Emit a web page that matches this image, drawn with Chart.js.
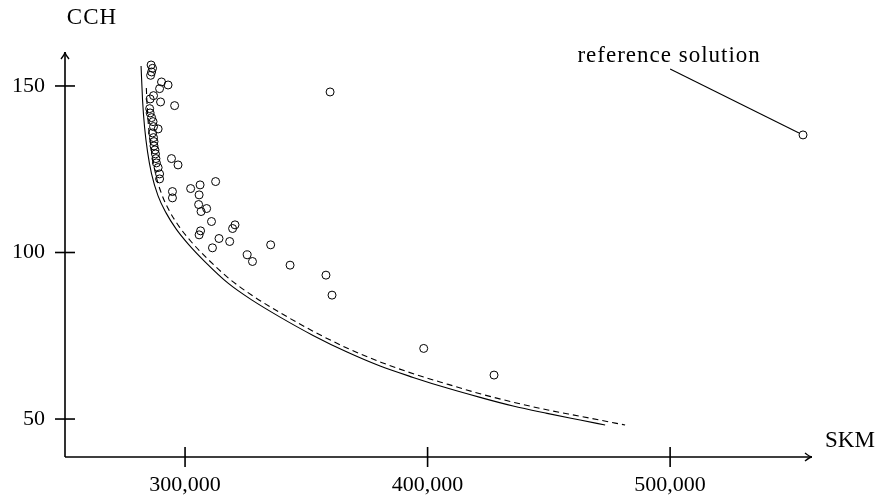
<!DOCTYPE html>
<html lang="en">
<head>
<meta charset="utf-8">
<script src="https://cdn.jsdelivr.net/npm/chart.js@4.4.1/dist/chart.umd.min.js"></script>
<style>
  body { margin: 0; background: #fff; }
  .wrap { width: 883px; height: 497px; }
</style>
</head>
<body>
<div class="wrap"><canvas id="front"></canvas></div>
<script>
// tick labels
const xTicks = [300000, 400000, 500000];
const yTicks = [50, 100, 150];

// runs (SKM, CCH)
const runSKM = [286000, 286600, 286200, 285800, 290300, 293000, 289500, 287000, 285600, 289900,
  295700, 285400, 285600, 286200, 286800, 287000, 288900, 286600, 287000, 287200,
  287200, 287600, 287800, 288000, 288200, 288900, 289500, 289500, 294400, 297100,
  294800, 294800, 302300, 306200, 312600, 305800, 305600, 308900, 306600, 310900,
  320600, 319600, 306400, 305800, 314000, 318400, 311300, 335300, 325600, 327800,
  343300, 358100, 360600, 398400, 427400, 359800];
const runCCH = [156.3, 155.3, 154.2, 153.2, 151.2, 150.3, 149.2, 147.1, 146.1, 145.2,
  144.1, 143.2, 141.9, 140.5, 139.3, 137.8, 137.1, 135.9, 134.5, 133.3,
  132.0, 130.8, 129.6, 128.2, 126.9, 125.5, 123.6, 122.1, 128.2, 126.3,
  118.3, 116.4, 119.2, 120.3, 121.3, 117.3, 114.4, 113.2, 112.3, 109.3,
  108.3, 107.2, 106.5, 105.3, 104.2, 103.3, 101.4, 102.3, 99.3, 97.3,
  96.2, 93.2, 87.2, 71.2, 63.2, 148.2];

// reference solution
const refSKM = [554800];
const refCCH = [135.3];

// solid front
const frontSKM = [281860, 282470, 283300, 284540, 286190, 288870, 292170, 296290, 301240, 308250,
  317730, 327630, 339180, 352780, 366800, 380410, 394020, 408040, 421650, 435260, 449280, 462890, 473200];
const frontCCH = [156.0, 145.8, 137.7, 130.2, 123.6, 117.0, 111.9, 107.1, 102.6, 97.2,
  90.8, 85.7, 80.6, 75.1, 70.1, 65.9, 62.5, 59.3, 56.5, 53.9, 51.7, 49.7, 48.2];

// dashed front
const dashSKM = [284040, 284250, 284950, 286190, 287790, 290430, 293610, 297650, 302470, 309400,
  318760, 328540, 339960, 353480, 367420, 380950, 394520, 408500, 422060, 435630, 449610, 463180, 481440];
const dashCCH = [149.4, 145.8, 137.8, 130.4, 123.8, 117.4, 112.4, 107.7, 103.3, 98.0,
  91.8, 86.7, 81.6, 76.1, 71.1, 67.0, 63.5, 60.4, 57.5, 55.0, 52.7, 50.8, 48.2];

const noteText = 'reference solution';
const noteSKM = 499600, noteCCH = 159.0;   // text centre
const noteLineSKM = 500000, noteLineCCH = 155.1;

const FONT = '"Liberation Serif", serif';

function pts(xs, ys) { return xs.map((x, i) => ({ x: x, y: ys[i] })); }

function arrow(ctx, x, y, dx, dy) {
  const s = 7, w = 4;
  const px = -dy, py = dx;
  ctx.beginPath();
  ctx.moveTo(x - dx * s + px * w, y - dy * s + py * w);
  ctx.quadraticCurveTo(x - dx * 2, y - dy * 2, x, y);
  ctx.quadraticCurveTo(x - dx * 2, y - dy * 2, x - dx * s - px * w, y - dy * s - py * w);
  ctx.stroke();
}

const axesPlugin = {
  id: 'texAxes',
  afterDatasetsDraw(chart) {
    const ctx = chart.ctx, a = chart.chartArea;
    const xs = chart.scales.x, ys = chart.scales.y;
    ctx.save();
    ctx.strokeStyle = '#000';
    ctx.fillStyle = '#000';
    ctx.lineWidth = 1.6;
    ctx.lineCap = 'butt';
    ctx.beginPath();
    ctx.moveTo(a.left, a.bottom); ctx.lineTo(a.right, a.bottom);
    ctx.moveTo(a.left, a.bottom); ctx.lineTo(a.left, a.top);
    ctx.stroke();
    ctx.lineWidth = 1.4;
    arrow(ctx, a.right, a.bottom, 1, 0);
    arrow(ctx, a.left, a.top, 0, -1);

    ctx.lineWidth = 1.6;
    ctx.font = '22px ' + FONT;
    ctx.textAlign = 'center';
    ctx.textBaseline = 'middle';
    xTicks.forEach(v => {
      const p = xs.getPixelForValue(v);
      ctx.beginPath(); ctx.moveTo(p, a.bottom - 10); ctx.lineTo(p, a.bottom + 10); ctx.stroke();
      ctx.fillText(v.toLocaleString('en-US'), p, a.bottom + 28);
    });
    ctx.textAlign = 'right';
    yTicks.forEach(v => {
      const p = ys.getPixelForValue(v);
      ctx.beginPath(); ctx.moveTo(a.left - 10, p); ctx.lineTo(a.left + 10, p); ctx.stroke();
      ctx.fillText(String(v), a.left - 20, p);
    });

    ctx.font = '23px ' + FONT;
    ctx.textAlign = 'left';
    ctx.fillText('SKM', a.right + 13, a.bottom - 16);
    ctx.letterSpacing = '1px';
    ctx.textAlign = 'center';
    ctx.fillText('CCH', a.left + 27, 18);

    // annotation
    const tx = xs.getPixelForValue(noteSKM), ty = ys.getPixelForValue(noteCCH);
    ctx.fillText(noteText, tx, ty);
    ctx.letterSpacing = '0px';
    const lx = xs.getPixelForValue(noteLineSKM), ly = ys.getPixelForValue(noteLineCCH);
    const rx = xs.getPixelForValue(refSKM[0]), ry = ys.getPixelForValue(refCCH[0]);
    const d = Math.hypot(rx - lx, ry - ly);
    ctx.lineWidth = 1.1;
    ctx.beginPath();
    ctx.moveTo(lx, ly);
    ctx.lineTo(rx - (rx - lx) / d * 4.5, ry - (ry - ly) / d * 4.5);
    ctx.stroke();
    ctx.restore();
  }
};

new Chart(document.getElementById('front'), {
  type: 'scatter',
  data: {
    datasets: [
      {
        label: 'front', data: pts(frontSKM, frontCCH), showLine: true,
        borderColor: '#000', borderWidth: 1.1, pointRadius: 0,
        cubicInterpolationMode: 'monotone', fill: false
      },
      {
        label: 'approx', data: pts(dashSKM, dashCCH), showLine: true,
        borderColor: '#000', borderWidth: 1.1, borderDash: [6, 4], pointRadius: 0,
        cubicInterpolationMode: 'monotone', fill: false
      },
      {
        label: 'runs', data: pts(runSKM, runCCH),
        pointStyle: 'circle', pointRadius: 4, borderWidth: 1,
        borderColor: '#000', backgroundColor: 'rgba(255,255,255,0)'
      },
      {
        label: 'reference', data: pts(refSKM, refCCH),
        pointStyle: 'circle', pointRadius: 4, borderWidth: 1,
        borderColor: '#000', backgroundColor: 'rgba(255,255,255,0)'
      }
    ]
  },
  options: {
    responsive: true,
    maintainAspectRatio: false,
    animation: false,
    devicePixelRatio: 1,
    layout: { padding: { left: 65, top: 52, right: 71, bottom: 40 } },
    plugins: { legend: { display: false }, tooltip: { enabled: false } },
    scales: {
      x: { type: 'linear', display: false, min: 250500, max: 558500 },
      y: { type: 'linear', display: false, min: 38.6, max: 160.2 }
    }
  },
  plugins: [axesPlugin]
});
</script>
</body>
</html>
